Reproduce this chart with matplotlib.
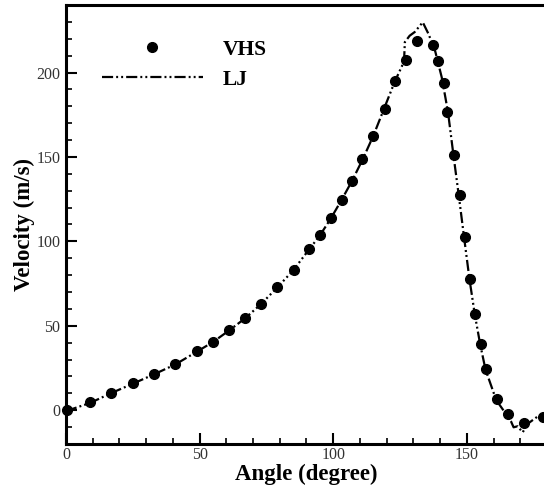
import matplotlib
matplotlib.use('Agg')
import matplotlib.pyplot as plt
from matplotlib.ticker import MultipleLocator

plt.rcParams['font.family'] = ['Liberation Serif', 'DejaVu Serif']
plt.rcParams['lines.scale_dashes'] = False

# VHS samples
vhs_angle = [0.5, 8.9, 17.0, 24.9, 32.9, 40.9, 49.0, 55.0, 61.1, 67.0, 73.0, 79.0,
             85.2, 91.0, 95.0, 99.1, 103.1, 107.0, 110.8, 115.0, 119.2, 123.1, 127.2,
             131.2, 137.4, 139.3, 141.5, 142.7, 145.2, 147.3, 149.2, 151.2, 153.2,
             155.2, 157.3, 161.3, 165.3, 171.3, 178.5]
vhs_vel = [0.1, 4.6, 10.5, 16.0, 21.6, 27.5, 35.0, 40.7, 47.5, 54.7, 63.2, 72.9,
           83.1, 95.6, 104.0, 113.8, 124.6, 136.0, 148.6, 162.7, 178.7, 194.8, 207.7,
           218.4, 216.6, 206.7, 193.8, 176.5, 151.2, 127.4, 102.4, 77.8, 56.7,
           39.2, 24.5, 6.5, -2.3, -7.6, -4.0]

# LJ curve
lj_angle = [0, 9, 17, 25, 33, 41, 49, 55, 61, 67, 73, 79, 85, 91, 95, 99, 103, 107,
            111, 115, 119, 123, 126.5, 126.8, 128.6, 130.5, 133.5, 135.7, 138.2,
            140.6, 142, 143, 145, 147, 149, 151, 153, 155, 157, 161, 165, 166.5,
            167.5, 169, 170.9, 172.7, 176.5, 180]
lj_vel = [-0.5, 4.3, 10.2, 15.7, 21.3, 27.2, 34.7, 40.4, 47.2, 54.4, 62.9, 72.6,
          82.8, 95.3, 103.5, 113.3, 124.2, 135.7, 148.5, 162.5, 178.5, 194.5,
          206.5, 218, 221.8, 224, 229.8, 222.7, 212.4, 197.2, 185, 176, 151, 127,
          102, 77.5, 56.5, 39, 24, 6, -3, -6.5, -10.1, -9.5, -13.1, -8.1, -3.7, -3]

fig = plt.figure(figsize=(5.44, 4.86), dpi=100)
ax = fig.add_axes([66/544, 42/486, 481/544, 439/486])

ax.plot(lj_angle, lj_vel, color='black', lw=1.6,
        linestyle=(0, (8, 2.2, 1.4, 2.2, 1.4, 2.2)), label='LJ', zorder=2)
ax.plot(vhs_angle, vhs_vel, 'o', color='black', ms=7, label='VHS', zorder=3,
        clip_on=False)

ax.set_xlim(0, 180)
ax.set_ylim(-20, 240)
ax.xaxis.set_major_locator(MultipleLocator(50))
ax.xaxis.set_minor_locator(MultipleLocator(10))
ax.yaxis.set_major_locator(MultipleLocator(50))
ax.yaxis.set_minor_locator(MultipleLocator(10))
ax.tick_params(which='major', direction='in', length=8, width=1.5,
               labelsize=11.5, labelcolor='#333333', pad=4)
ax.tick_params(axis='x', which='major', pad=2.5)
ax.tick_params(which='minor', direction='in', length=4.5, width=1.2)
ax.tick_params(top=False, right=False, which='both')
for side in ['left', 'bottom', 'top', 'right']:
    ax.spines[side].set_linewidth(2.2)

ax.set_xlabel('Angle (degree)', fontsize=16.5, fontweight='bold', labelpad=0.5)
ax.set_ylabel('Velocity (m/s)', fontsize=16.5, fontweight='bold', labelpad=1)

h, l = ax.get_legend_handles_labels()
ax.legend([h[1], h[0]], [l[1], l[0]], loc='upper left',
          bbox_to_anchor=(0.034, 0.965), frameon=False,
          prop={'weight': 'bold', 'size': 15.5}, handlelength=4.7,
          handletextpad=0.9, labelspacing=0.45, numpoints=1)

fig.savefig('out.png', dpi=100)
